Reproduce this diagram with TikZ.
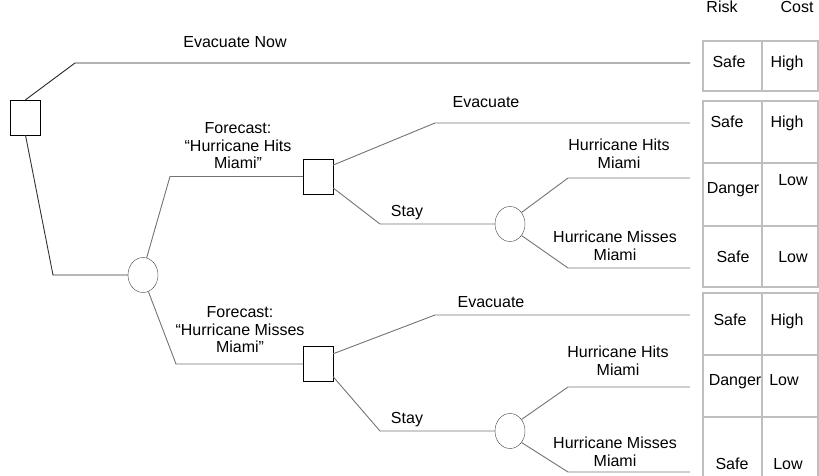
\documentclass[tikz,border=0pt]{standalone}
\usepackage{fontspec}
\setmainfont{Liberation Sans}
\usetikzlibrary{shapes.geometric}

\begin{document}
\begin{tikzpicture}[x=1pt, y=-1pt, font=\fontsize{16}{17.5}\selectfont,
  choice/.style={rectangle, draw, minimum width=30pt, minimum height=35pt, inner sep=0pt},
  chance/.style={ellipse, draw=black!75, minimum width=30pt, minimum height=35pt, inner sep=0pt},
  branch/.style={draw=black!55, line width=0.9pt},
  lbl/.style={align=center, inner sep=0pt},
  cell/.style={draw=black!25, line width=2.5pt},
  entry/.style={anchor=base, inner sep=0pt}]
  \useasboundingbox (0,0) rectangle (819,476);

  % decision and chance nodes
  \node[choice] (root) at (25.5,117.5) {};
  \node[chance] (ch1) at (143,275) {};
  \node[choice] (dec1) at (318,176.5) {};
  \node[choice] (dec2) at (318,364) {};
  \node[chance] (ch2) at (510,224) {};
  \node[chance] (ch3) at (510,431) {};

  % free ends of the branches
  \coordinate (endA) at (690,63);
  \coordinate (endB) at (690,123);
  \coordinate (endC) at (690,178);
  \coordinate (endD) at (690,268);
  \coordinate (endE) at (690,315);
  \coordinate (endF) at (690,387);
  \coordinate (endG) at (690,472);

  % branches
  \draw[branch, draw=black!85] (root.north) -- (75,63) -- (endA);
  \draw[branch, draw=black!80] (root.south) -- (53,275) -- (ch1.west);
  \draw[branch] (ch1.78) -- (170,176.5) -- (dec1.west);
  \draw[branch] (ch1.-72) -- (176,364) -- (dec2.west);
  \draw[branch] (dec1.37) -- (435,123) -- (endB);
  \draw[branch] (dec1.-37) -- (380,224) -- (ch2.west);
  \draw[branch] (dec2.34) -- (435,315) -- (endE);
  \draw[branch] (dec2.-40) -- (380,431) -- (ch3.west);
  \draw[branch] (ch2.45) -- (568,178) -- (endC);
  \draw[branch] (ch2.-45) -- (568,268) -- (endD);
  \draw[branch] (ch3.45) -- (568,387) -- (endF);
  \draw[branch] (ch3.-45) -- (568,472) -- (endG);

  % branch labels
  \node[lbl] (evnow) at (235,42) {Evacuate Now};
  \node[lbl] (fcHit) at (238,146) {Forecast:\\“Hurricane Hits\\Miami”};
  \node[lbl] (fcMiss) at (240,330) {Forecast:\\“Hurricane Misses\\Miami”};
  \node[lbl] (evHit) at (486,102) {Evacuate};
  \node[lbl] (stHit) at (407,213) {Stay};
  \node[lbl] (evMiss) at (491,302) {Evacuate};
  \node[lbl] (stMiss) at (407,420) {Stay};
  \node[lbl] (hitA) at (619,154) {Hurricane Hits\\Miami};
  \node[lbl] (missA) at (615,246) {Hurricane Misses\\Miami};
  \node[lbl] (hitB) at (618,361) {Hurricane Hits\\Miami};
  \node[lbl] (missB) at (615,452) {Hurricane Misses\\Miami};

  % outcome table
  \draw[cell] (703,41) rectangle (818,91);
  \draw[cell] (703,101) rectangle (818,287);
  \draw[cell] (703,293) rectangle (818,490);
  \draw[cell, line width=2pt] (762,41) -- (762,91);
  \draw[cell, line width=2pt] (762,101) -- (762,287);
  \draw[cell, line width=2pt] (762,293) -- (762,490);
  \draw[cell] (703,163) -- (818,163);
  \draw[cell] (703,226) -- (818,226);
  \draw[cell] (703,355) -- (818,355);
  \draw[cell] (703,417) -- (818,417);

  \node[entry] (risk) at (722,12.5) {Risk};
  \node[entry] (cost) at (797,12.5) {Cost};
  \node[entry] (r1) at (729,68) {Safe};
  \node[entry] (c1) at (787,68) {High};
  \node[entry] (r2) at (727,128) {Safe};
  \node[entry] (c2) at (787,128) {High};
  \node[entry] (r3) at (733,193) {Danger};
  \node[entry] (c3) at (793,185) {Low};
  \node[entry] (r4) at (733,262) {Safe};
  \node[entry] (c4) at (793,262) {Low};
  \node[entry] (r5) at (730,325) {Safe};
  \node[entry] (c5) at (787,325) {High};
  \node[entry] (r6) at (735,385) {Danger};
  \node[entry] (c6) at (784,385) {Low};
  \node[entry] (r7) at (732,469) {Safe};
  \node[entry] (c7) at (788,469) {Low};
\end{tikzpicture}
\end{document}
